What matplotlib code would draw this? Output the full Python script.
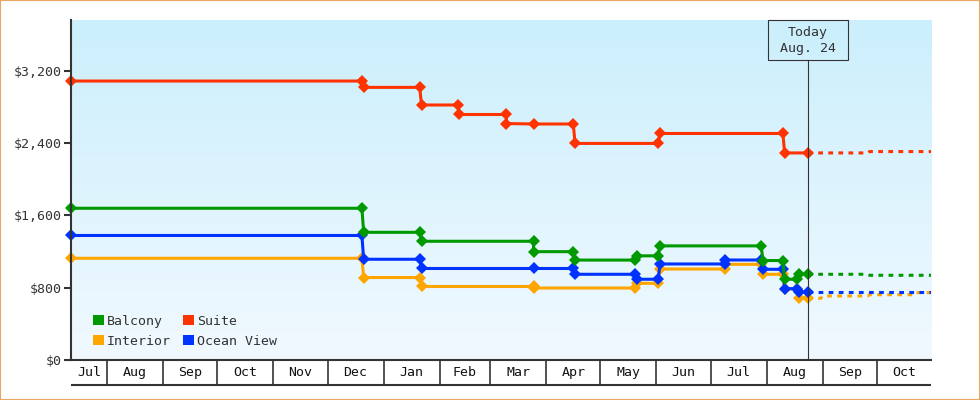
import numpy as np
import pandas as pd
import matplotlib
matplotlib.use("Agg")
import matplotlib.pyplot as plt
import matplotlib.dates as mdates
from matplotlib.colors import LinearSegmentedColormap
from matplotlib.patches import Patch, Rectangle
from matplotlib.transforms import blended_transform_factory

plt.rcParams["font.family"] = ["DejaVu Sans Mono"]

# price history, one point per recorded price (date, price)
suite_dates = ["2022-07-12", "2022-12-20", "2022-12-21", "2023-01-21", "2023-01-22",
               "2023-02-11", "2023-02-12", "2023-03-10", "2023-03-10", "2023-03-25",
               "2023-04-16", "2023-04-17", "2023-06-02", "2023-06-03", "2023-08-10",
               "2023-08-11", "2023-08-24"]
suite_prices = [3085, 3085, 3015, 3015, 2820, 2820, 2715, 2715, 2615, 2610,
                2610, 2395, 2395, 2505, 2505, 2290, 2290]

balcony_dates = ["2022-07-12", "2022-12-20", "2022-12-21", "2023-01-21", "2023-01-22",
                 "2023-03-25", "2023-03-25", "2023-04-16", "2023-04-17", "2023-05-20",
                 "2023-05-21", "2023-06-02", "2023-06-03", "2023-07-29", "2023-07-30",
                 "2023-08-10", "2023-08-11", "2023-08-18", "2023-08-19", "2023-08-24"]
balcony_prices = [1678, 1678, 1412, 1412, 1313, 1313, 1198, 1198, 1105, 1105,
                  1152, 1152, 1262, 1262, 1100, 1100, 893, 893, 948, 948]

ocean_dates = ["2022-07-12", "2022-12-20", "2022-12-21", "2023-01-21", "2023-01-22",
               "2023-03-25", "2023-04-16", "2023-04-17", "2023-05-20", "2023-05-21",
               "2023-06-02", "2023-06-03", "2023-07-09", "2023-07-09", "2023-07-29",
               "2023-07-30", "2023-08-10", "2023-08-11", "2023-08-18", "2023-08-19",
               "2023-08-24"]
ocean_prices = [1377, 1377, 1114, 1114, 1012, 1012, 1012, 948, 948, 893,
                893, 1062, 1062, 1106, 1106, 1003, 1003, 789, 789, 749, 749]

interior_dates = ["2022-07-12", "2022-12-20", "2022-12-21", "2023-01-21", "2023-01-22",
                  "2023-03-25", "2023-03-25", "2023-05-20", "2023-05-21", "2023-06-02",
                  "2023-06-03", "2023-07-09", "2023-07-09", "2023-07-29", "2023-07-30",
                  "2023-08-10", "2023-08-11", "2023-08-18", "2023-08-19", "2023-08-24"]
interior_prices = [1125, 1125, 912, 912, 813, 813, 796, 796, 848, 848,
                   1006, 1006, 1058, 1058, 948, 948, 785, 785, 682, 682]

# forecast after today
suite_fc_dates = ["2023-08-24", "2023-09-26", "2023-09-27", "2023-10-31"]
suite_fc_prices = [2290, 2290, 2305, 2305]
balcony_fc_dates = ["2023-08-24", "2023-09-26", "2023-09-27", "2023-10-31"]
balcony_fc_prices = [948, 948, 937, 937]
ocean_fc_dates = ["2023-08-24", "2023-10-31"]
ocean_fc_prices = [749, 749]
interior_fc_dates = ["2023-08-24", "2023-08-31", "2023-09-01", "2023-09-26",
                     "2023-09-27", "2023-10-21", "2023-10-22", "2023-10-31"]
interior_fc_prices = [682, 682, 708, 708, 722, 722, 745, 745]

today = "2023-08-24"
today_label = "Today\nAug. 24"
x_start, x_end = "2022-07-12", "2023-10-31"
month_labels = ["Jul", "Aug", "Sep", "Oct", "Nov", "Dec", "Jan", "Feb",
                "Mar", "Apr", "May", "Jun", "Jul", "Aug", "Sep", "Oct"]
y_ticks = [0, 800, 1600, 2400, 3200]
y_max = 3760

series = [
    ("Interior", "#FFA500", interior_dates, interior_prices, interior_fc_dates, interior_fc_prices),
    ("Ocean View", "#0033FF", ocean_dates, ocean_prices, ocean_fc_dates, ocean_fc_prices),
    ("Balcony", "#009900", balcony_dates, balcony_prices, balcony_fc_dates, balcony_fc_prices),
    ("Suite", "#FF3300", suite_dates, suite_prices, suite_fc_dates, suite_fc_prices),
]
colors = {name: c for name, c, *_ in series}

dark = "#333333"
fig = plt.figure(figsize=(9.8, 4.0), dpi=100)
ax = fig.add_axes([71 / 980, 40 / 400, 860 / 980, 340 / 400])

# background gradient
grad = LinearSegmentedColormap.from_list("bg", ["#F1F9FF", "#CBEFFC"])
ax.imshow(np.linspace(0, 1, 256).reshape(-1, 1), cmap=grad, aspect="auto",
          extent=[0, 1, 0, 1], transform=ax.transAxes, origin="lower", zorder=0)

for z, (name, color, d, p, fd, fp) in enumerate(series):
    ax.plot(pd.to_datetime(fd), fp, color=color, lw=2.2, dashes=(1.55, 1.75),
            zorder=2 + z, dash_capstyle="butt")
    ax.plot(pd.to_datetime(d), p, color=color, lw=2.2, marker="D", ms=6.0,
            mew=0, zorder=3 + z, clip_on=False)

ax.set_xlim(pd.Timestamp(x_start), pd.Timestamp(x_end))
ax.set_ylim(0, y_max)

# y axis
ax.set_yticks(y_ticks)
ax.set_yticklabels([f"${v:,.0f}" for v in y_ticks])
ax.tick_params(axis="y", length=5, width=1.5, color=dark, pad=1.5,
               labelsize=9.5, labelcolor=dark)

# x axis: month boxes
month_starts = pd.date_range("2022-08-01", "2023-10-01", freq="MS")
ax.set_xticks(month_starts)
ax.tick_params(axis="x", length=18, width=1.2, color=dark, labelbottom=False)
edges = [pd.Timestamp(x_start)] + list(month_starts) + [pd.Timestamp(x_end)]
trans = blended_transform_factory(ax.transData, ax.transAxes)
for lab, a, b in zip(month_labels, edges[:-1], edges[1:]):
    ax.text(a + (b - a) / 2, -0.037, lab, transform=trans, ha="center",
            va="center", fontsize=9.5, color="#111111")
ax.plot([0, 1], [-25 / 340, -25 / 340], transform=ax.transAxes, color=dark,
        lw=1.5, clip_on=False, solid_capstyle="butt")

for s in ["top", "right"]:
    ax.spines[s].set_visible(False)
ax.spines["left"].set_color(dark)
ax.spines["left"].set_linewidth(1.5)
ax.spines["left"].set_zorder(10)
ax.spines["bottom"].set_color(dark)
ax.spines["bottom"].set_linewidth(1.5)

# today marker
t = mdates.date2num(pd.Timestamp(today))
ax.axvline(pd.Timestamp(today), ymin=0, ymax=0.881, color=dark, lw=0.8, zorder=9)
half_w = 40 / (860 / (mdates.date2num(pd.Timestamp(x_end)) - mdates.date2num(pd.Timestamp(x_start))))
ax.add_patch(Rectangle((t - half_w, 0.881), 2 * half_w, 0.119, transform=trans,
                       facecolor="none", edgecolor=dark, lw=0.8, zorder=9, clip_on=False))
ax.text(t, 0.940, today_label, transform=trans, ha="center", va="center",
        fontsize=9.5, color=dark, linespacing=1.3, zorder=9)

# legend
order = ["Balcony", "Interior", "Suite", "Ocean View"]
handles = [Patch(facecolor=colors[n], edgecolor="none", label=n) for n in order]
ax.legend(handles=handles, ncol=2, loc="lower left", bbox_to_anchor=(0.0256, 0.036),
          frameon=False, fontsize=9.5, handlelength=0.83, handleheight=0.83,
          handletextpad=0.2, columnspacing=0.95, labelspacing=0.55,
          borderpad=0, borderaxespad=0, labelcolor=dark)

fig.patches.append(Rectangle((0, 0), 1, 1, transform=fig.transFigure, fill=False,
                             edgecolor="#E8A860", lw=1.5))

fig.savefig("out.png", dpi=100, facecolor="white")
